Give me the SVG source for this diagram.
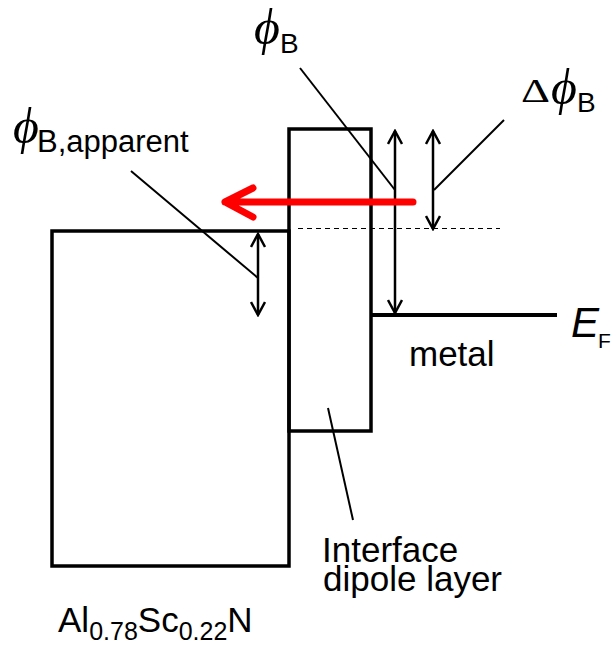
<svg xmlns="http://www.w3.org/2000/svg" width="613" height="646" viewBox="0 0 613 646">
<style>
.box{fill:none;stroke:#000;stroke-width:3.5}
.lvl{fill:none;stroke:#000;stroke-width:4}
.dim{fill:none;stroke:#000;stroke-width:2.5;marker-start:url(#v);marker-end:url(#v)}
.lead{fill:none;stroke:#000;stroke-width:2}
.dash{fill:none;stroke:#000;stroke-width:1;stroke-dasharray:5 4}
.t{font-family:"Liberation Sans",Arial,sans-serif;fill:#000}
.g{font-family:"Liberation Serif","DejaVu Serif",serif;font-style:italic;fill:#000}
.gu{font-family:"Liberation Serif","DejaVu Serif",serif;fill:#000}
</style>
<defs>
<marker id="v" viewBox="0 0 16 16" refX="14" refY="8" markerWidth="16" markerHeight="16" markerUnits="userSpaceOnUse" orient="auto-start-reverse">
<path d="M1,1 L14,8 L1,15" fill="none" stroke="#000" stroke-width="2.5"/>
</marker>
</defs>
<rect width="613" height="646" fill="#fff"/>
<g id="alscn">
<rect class="box" x="52" y="231" width="237" height="335"/>
<text class="t" x="58" y="632" font-size="35">Al<tspan font-size="25" dy="8">0.78</tspan><tspan dy="-8">Sc</tspan><tspan font-size="25" dy="8">0.22</tspan><tspan dy="-8">N</tspan></text>
</g>
<g id="dipole">
<rect class="box" x="289" y="129" width="82" height="302"/>
<text class="t" font-size="35"><tspan x="322" y="562">Interface</tspan><tspan x="323" y="591">dipole layer</tspan></text>
</g>
<g id="metal">
<line class="lvl" x1="371" y1="315" x2="557" y2="315"/>
<text class="t" x="409" y="366" font-size="35">metal</text>
<text class="t" font-size="42"><tspan x="571" y="337" font-style="italic">E</tspan><tspan x="598" y="348" font-size="21">F</tspan></text>
</g>
<g id="labels">
<text><tspan class="g" x="13" y="143" font-size="50">ϕ</tspan><tspan class="t" x="37" y="152" font-size="31">B,apparent</tspan></text>
<text><tspan class="g" x="254" y="44" font-size="50">ϕ</tspan><tspan class="t" x="280" y="53" font-size="28">B</tspan></text>
<text><tspan class="gu" x="521" y="102" font-size="34" textLength="29" lengthAdjust="spacingAndGlyphs">Δ</tspan><tspan class="g" x="551" y="104" font-size="50">ϕ</tspan><tspan class="t" x="577" y="112" font-size="28">B</tspan></text>
</g>
<g id="connectors">
<line class="dash" x1="298" y1="228.5" x2="500" y2="228.5"/>
<line class="dim" x1="395" y1="131" x2="395" y2="313"/>
<line class="dim" x1="433" y1="131" x2="433" y2="229"/>
<line class="dim" x1="258" y1="234" x2="258" y2="315"/>
<line class="lead" x1="300" y1="68" x2="395" y2="190"/>
<line class="lead" x1="504" y1="120" x2="434" y2="190"/>
<line class="lead" x1="131" y1="171" x2="258" y2="278"/>
<line class="lead" x1="328" y1="408" x2="353" y2="520"/>
<path d="M413,202 L225,202 M253,188 L225,202 L253,217" fill="none" stroke="#ff0000" stroke-width="7" stroke-linecap="round" stroke-linejoin="round"/>
</g>
</svg>
